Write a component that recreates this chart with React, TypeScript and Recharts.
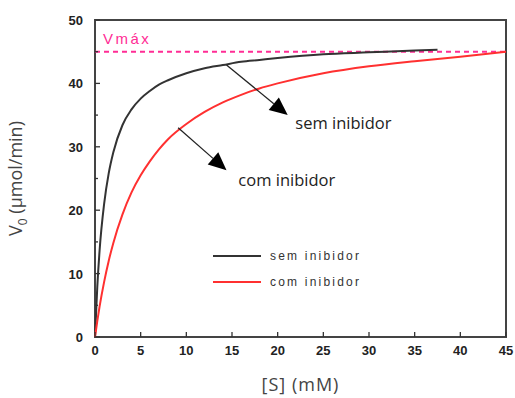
import {
  Line,
  LineChart,
  ReferenceArea,
  ReferenceDot,
  ReferenceLine,
  XAxis,
  YAxis,
} from "recharts";

// [S] (mM) points
const semConc = [0, 0.25, 0.5, 1, 1.5, 2, 3, 4, 5, 6, 7, 8, 10, 12, 14, 16, 18, 20, 25, 30, 35, 37.5];
const semInibidor = [0, 7.9, 13.6, 21.0, 25.8, 29.1, 33.4, 35.9, 37.6, 38.8, 39.8, 40.5, 41.6, 42.4, 42.9, 43.4, 43.7, 44.0, 44.6, 44.9, 45.2, 45.3];

const comConc = [0, 0.25, 0.5, 1, 1.5, 2, 3, 4, 5, 6, 7, 8, 10, 12, 14, 16, 18, 20, 25, 30, 35, 40, 45];
const comInibidor = [0, 2.5, 4.8, 8.7, 12.0, 14.8, 19.3, 22.8, 25.5, 27.7, 29.6, 31.2, 33.6, 35.5, 37.0, 38.2, 39.2, 40.0, 41.6, 42.7, 43.5, 44.2, 45.0];

const xTicks = [0, 5, 10, 15, 20, 25, 30, 35, 40, 45];
const yTicks = [0, 5, 10, 15, 20, 25, 30, 35, 40, 45, 50];
const vmax = 45;

// arrow start (on curve) and tip, in data units
const arrows = [
  { from: [14.4, 42.9], to: [21.1, 35.0] },
  { from: [9.1, 33.0], to: [14.4, 26.3] },
];

// annotation text centres, in data units
const notes = [
  { text: "sem inibidor", x: 27.2, y: 33.7 },
  { text: "com inibidor", x: 21.0, y: 24.8 },
];

const semData = semConc.map((x, i) => ({ x, v: semInibidor[i] }));
const comData = comConc.map((x, i) => ({ x, v: comInibidor[i] }));

const TICK_FONT = "'Liberation Sans', Arial, sans-serif";
const NOTE_FONT = "'Open Sans', 'Liberation Sans', sans-serif";

const YTick = ({ x, y, payload }: any) => {
  const ax = x + 12;
  const major = payload.value % 10 === 0;
  return (
    <g>
      <line x1={ax} x2={ax + (major ? 5 : 3)} y1={y} y2={y} stroke="#333" strokeWidth={1.3} />
      {major && (
        <text x={x} y={y + 5} textAnchor="end" fontFamily={TICK_FONT} fontWeight="bold" fontSize={13} fill="#222">
          {payload.value}
        </text>
      )}
    </g>
  );
};

const XTick = ({ x, y, payload }: any) => {
  const ay = y - 4;
  return (
    <g>
      <line x1={x} x2={x} y1={ay} y2={ay - 5} stroke="#333" strokeWidth={1.3} />
      <text x={x} y={ay + 18} textAnchor="middle" fontFamily={TICK_FONT} fontWeight="bold" fontSize={13} fill="#222">
        {payload.value}
      </text>
    </g>
  );
};

const Arrow = (props: any) => {
  const { x1, y1, x2, y2 } = props;
  const dx = x2 - x1;
  const dy = y2 - y1;
  const len = Math.sqrt(dx * dx + dy * dy);
  const ux = dx / len;
  const uy = dy / len;
  const hl = 18;
  const hw = 8;
  const bx = x2 - ux * hl;
  const by = y2 - uy * hl;
  return (
    <g>
      <line x1={x1} y1={y1} x2={bx} y2={by} stroke="#222" strokeWidth={1.3} />
      <polygon
        points={`${x2},${y2} ${bx - uy * hw},${by + ux * hw} ${bx + uy * hw},${by - ux * hw}`}
        fill="#000"
      />
    </g>
  );
};

const YLabel = ({ viewBox }: any) => {
  const cx = 22;
  const cy = viewBox.y + viewBox.height / 2;
  return (
    <text
      x={cx}
      y={cy}
      transform={`rotate(-90, ${cx}, ${cy})`}
      textAnchor="middle"
      fontFamily={NOTE_FONT}
      fontSize={18}
      fill="#444"
    >
      V<tspan fontSize={12} dy={5}>0</tspan>
      <tspan dy={-5}> (µmol/min)</tspan>
    </text>
  );
};

const legendItems = [
  { label: "sem inibidor", color: "#333" },
  { label: "com inibidor", color: "#ff3030" },
];

const ChartLegend = () => (
  <div style={{ position: "absolute", left: 213, top: 243 }}>
    {legendItems.map((item) => (
      <div key={item.label} style={{ display: "flex", alignItems: "center", height: 26 }}>
        <svg width={48} height={4}>
          <line x1={0} x2={48} y1={2} y2={2} stroke={item.color} strokeWidth={2} />
        </svg>
        <span
          style={{
            marginLeft: 9,
            fontFamily: TICK_FONT,
            fontSize: 12,
            letterSpacing: 2.2,
            color: "#333",
            whiteSpace: "nowrap",
          }}
        >
          {item.label}
        </span>
      </div>
    ))}
  </div>
);

export default function App() {
  return (
    <div style={{ position: "absolute", left: 0, top: 0, width: 515, height: 398, background: "#fff" }}>
      <LineChart width={515} height={398} margin={{ top: 20, right: 9, bottom: 3, left: 35 }}>
        <XAxis
          dataKey="x"
          type="number"
          domain={[0, 45]}
          ticks={xTicks}
          height={58}
          allowDuplicatedCategory={false}
          axisLine={false}
          tickLine={false}
          tickSize={0}
          tickMargin={4}
          tick={<XTick />}
          interval={0}
          label={{
            value: "[S] (mM)",
            position: "insideBottom",
            offset: 4,
            style: { fontFamily: NOTE_FONT, fontSize: 18, fill: "#444", letterSpacing: 1 },
          }}
        />
        <YAxis
          type="number"
          domain={[0, 50]}
          ticks={yTicks}
          width={60}
          axisLine={false}
          tickLine={false}
          tickSize={0}
          tickMargin={12}
          tick={<YTick />}
          interval={0}
          label={<YLabel />}
        />
        <ReferenceArea x1={0} x2={45} y1={0} y2={50} fill="none" stroke="#444" strokeWidth={2} ifOverflow="visible" />
        <ReferenceLine
          y={vmax}
          stroke="#ff2d95"
          strokeWidth={2}
          strokeDasharray="5 4"
          label={{
            value: "Vmáx",
            position: "insideBottomLeft",
            offset: 8,
            style: { fill: "#ff2d95", fontFamily: TICK_FONT, fontSize: 15, letterSpacing: 2.5 },
          }}
        />
        <Line
          data={semData}
          dataKey="v"
          type="monotone"
          stroke="#333"
          strokeWidth={2}
          dot={false}
          isAnimationActive={false}
        />
        <Line
          data={comData}
          dataKey="v"
          type="monotone"
          stroke="#ff3030"
          strokeWidth={2}
          dot={false}
          isAnimationActive={false}
        />
        {arrows.map((a, i) => (
          <ReferenceLine
            key={i}
            segment={[
              { x: a.from[0], y: a.from[1] },
              { x: a.to[0], y: a.to[1] },
            ]}
            shape={<Arrow />}
          />
        ))}
        {notes.map((n) => (
          <ReferenceDot
            key={n.text}
            x={n.x}
            y={n.y}
            r={0}
            stroke="none"
            fill="none"
            label={{
              value: n.text,
              position: "center",
              style: { fill: "#222", fontFamily: NOTE_FONT, fontSize: 16.5 },
            }}
          />
        ))}
      </LineChart>
      <ChartLegend />
    </div>
  );
}
